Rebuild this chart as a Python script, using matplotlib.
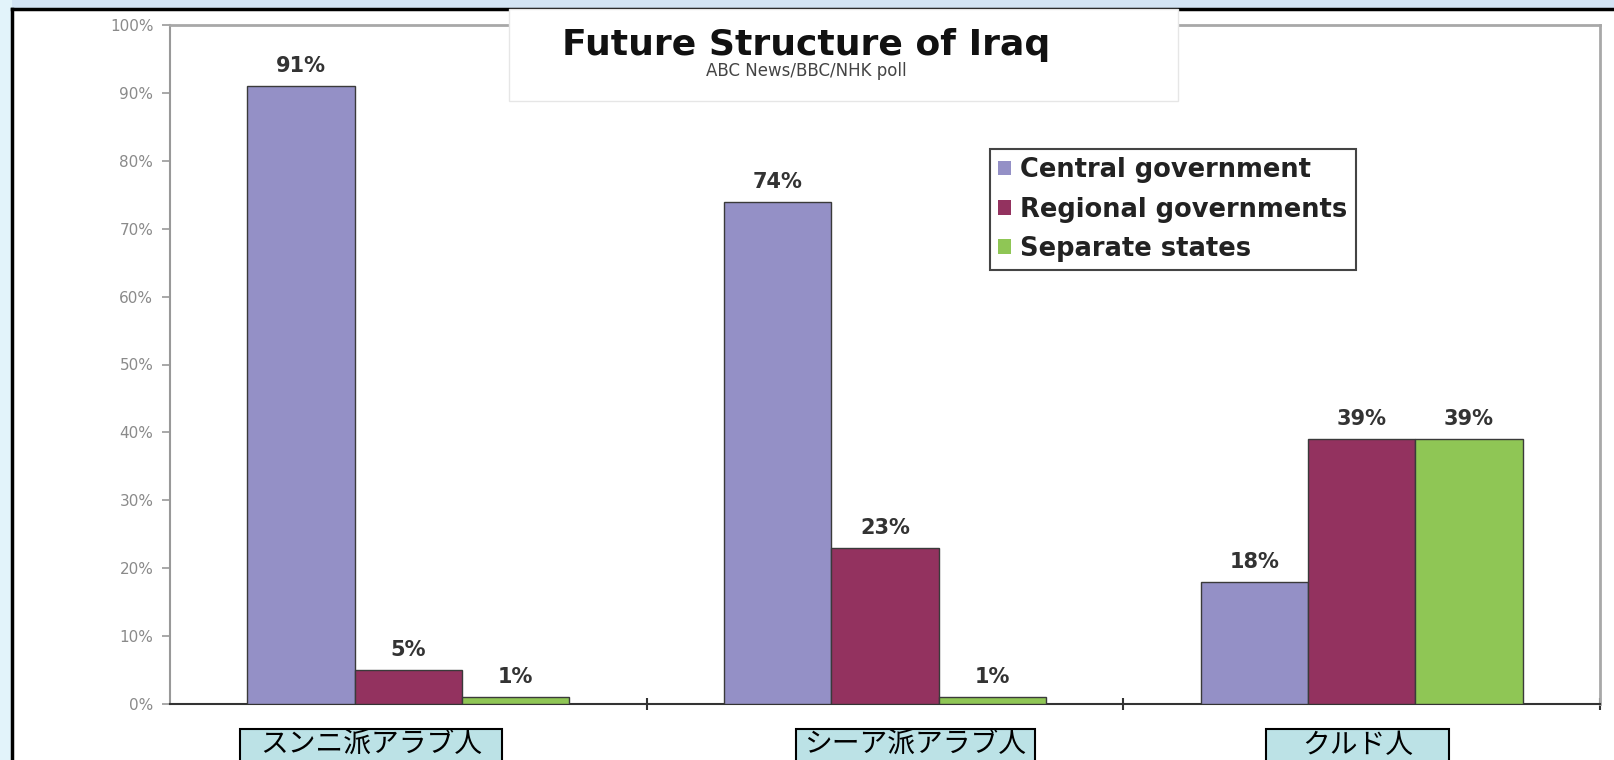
import matplotlib
matplotlib.use("Agg")
import matplotlib.pyplot as plt
from matplotlib.patches import Rectangle
from matplotlib.lines import Line2D

# --- data -------------------------------------------------------------
groups = ["スンニ派アラブ人", "シーア派アラブ人", "クルド人"]
series_names = ["Central government", "Regional governments", "Separate states"]
central = [91, 74, 18]
regional = [5, 23, 39]
separate = [1, 1, 39]
y_ticks = [0, 10, 20, 30, 40, 50, 60, 70, 80, 90, 100]
title = "Future Structure of Iraq"
subtitle = "ABC News/BBC/NHK poll"

# --- styling / layout ------------------------------------------------
W, H = 1614, 760
colors = ["#9490c6", "#93325f", "#8fc655"]
bar_w = 0.225
# horizontal pixel extents of the category label boxes
label_boxes_px = [(240, 502), (796, 1035), (1266, 1449)]

fig = plt.figure(figsize=(W / 100, H / 100), dpi=100)
fig.patch.set_facecolor("white")

def fx(px):
    return px / W

def fy(py):
    return 1 - py / H

# light blue slide margin with black frame lines
fig.add_artist(Rectangle((0, fy(9)), 1, 1 - fy(9), transform=fig.transFigure,
                         facecolor="#d3e4f4", edgecolor="none", zorder=-2))
fig.add_artist(Rectangle((0, 0), fx(12), 1, transform=fig.transFigure,
                         facecolor="#e2f3fa", edgecolor="none", zorder=-2))
fig.add_artist(Line2D([fx(12), 1], [fy(9), fy(9)], transform=fig.transFigure,
                      color="black", linewidth=2.5, zorder=-1))
fig.add_artist(Line2D([fx(12), fx(12)], [0, fy(9)], transform=fig.transFigure,
                      color="black", linewidth=2.5, zorder=-1))

ax = fig.add_axes([fx(170), fy(704), fx(1600) - fx(170), fy(25) - fy(704)])
ax.set_facecolor("white")

x = list(range(len(groups)))
values = [central, regional, separate]
for i, (vals, c, name) in enumerate(zip(values, colors, series_names)):
    pos = [xi + (i - 1) * bar_w for xi in x]
    ax.bar(pos, vals, width=bar_w, color=c, edgecolor="#3a3a3a",
           linewidth=1.0, label=name, zorder=3)
    for p, v in zip(pos, vals):
        ax.annotate(f"{v}%", (p, v), xytext=(0, 7), textcoords="offset points",
                    ha="center", va="bottom", fontsize=15, fontweight="bold",
                    color="#333333", zorder=4)

ax.set_xlim(-0.5, len(groups) - 0.5)
ax.set_ylim(0, 100)
ax.set_yticks(y_ticks)
ax.set_yticklabels([f"{t}%" for t in y_ticks])
ax.tick_params(axis="y", length=6, width=1.2, color="#999999",
               labelcolor="#8a8a8a", labelsize=11, pad=6)
ax.set_xticks([0.5, 1.5, 2.5])
ax.set_xticklabels([])
ax.tick_params(axis="x", direction="inout", length=9, width=1.5, color="#333333")

for side in ("top", "right"):
    ax.spines[side].set_color("#a8a8a8")
    ax.spines[side].set_linewidth(2)
ax.spines["left"].set_color("#999999")
ax.spines["left"].set_linewidth(1.5)
ax.spines["bottom"].set_color("#333333")
ax.spines["bottom"].set_linewidth(1.5)

# legend
leg = ax.legend(loc="upper left", bbox_to_anchor=(fx(990), fy(149)),
                bbox_transform=fig.transFigure, borderaxespad=0,
                prop={"weight": "bold", "size": 18.5},
                handlelength=0.5, handleheight=0.5, handletextpad=0.35,
                borderpad=0.32, labelspacing=0.52, fancybox=False,
                framealpha=1, edgecolor="#444444")
leg.get_frame().set_linewidth(1.5)
for t in leg.get_texts():
    t.set_color("#222222")
for h in leg.legend_handles:
    h.set_edgecolor("none")

# title block
fig.add_artist(Rectangle((fx(509), fy(101)), fx(1178) - fx(509), fy(9) - fy(101),
                         transform=fig.transFigure, facecolor="white",
                         edgecolor="#e6e6e6", linewidth=1, zorder=5))
fig.text(fx(806), fy(45), title, ha="center", va="center", fontsize=26,
         fontweight="bold", color="#111111", zorder=6)
fig.text(fx(806), fy(71), subtitle, ha="center", va="center", fontsize=12,
         color="#444444", zorder=6)

# category label boxes
for name, (x0, x1) in zip(groups, label_boxes_px):
    fig.add_artist(Rectangle((fx(x0), fy(764)), fx(x1) - fx(x0), fy(729) - fy(764),
                             transform=fig.transFigure, facecolor="#bce2e6",
                             edgecolor="black", linewidth=1.5, zorder=5))
    fig.text(fx((x0 + x1) / 2), fy(745), name, ha="center", va="center",
             fontsize=20, family=["Noto Sans CJK JP", "DejaVu Sans"],
             color="black", zorder=6)

fig.savefig("out.png", dpi=100, facecolor=fig.get_facecolor())
